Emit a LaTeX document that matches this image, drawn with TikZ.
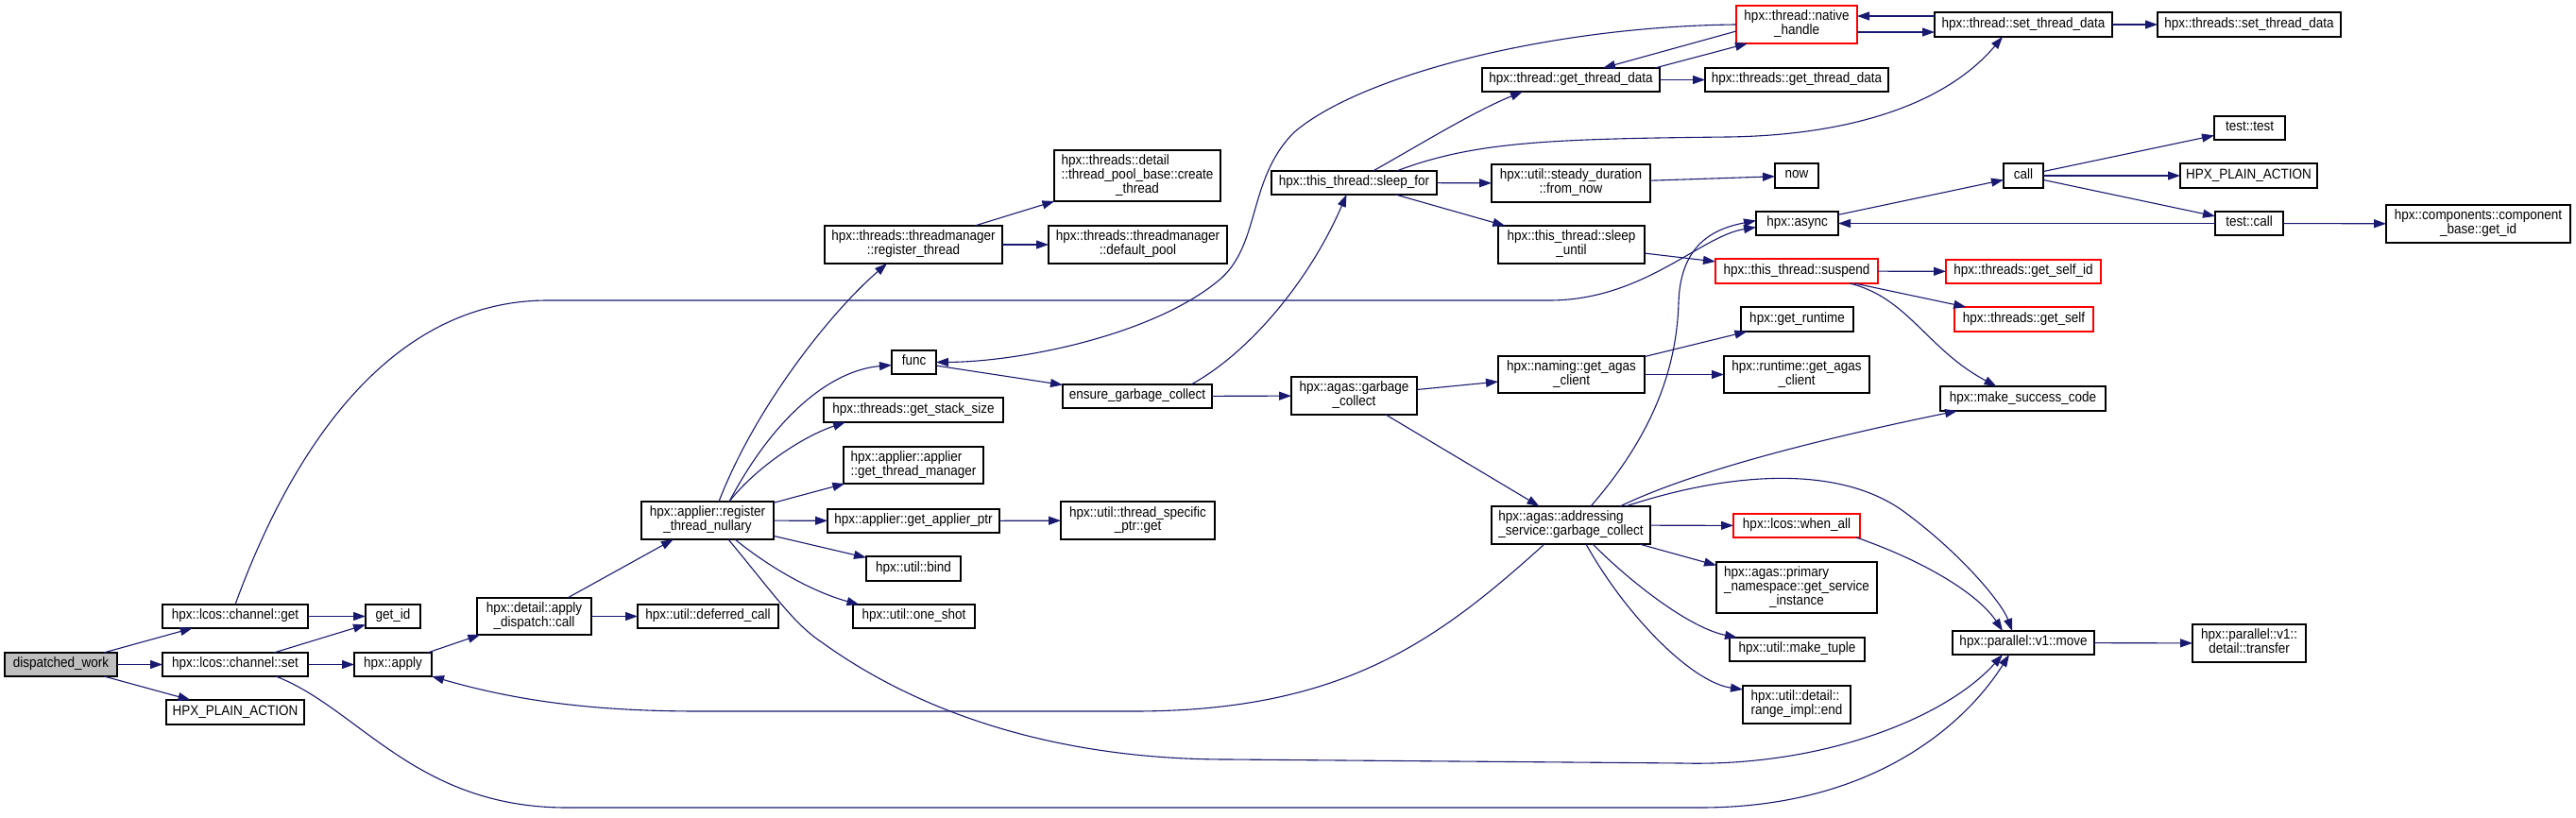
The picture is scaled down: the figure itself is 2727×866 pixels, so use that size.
\documentclass[tikz,border=0pt]{standalone}
\usepackage{fontspec}
\setmainfont[FakeStretch=0.9]{Liberation Sans}
\usetikzlibrary{arrows.meta,calc}
\definecolor{edgec}{HTML}{191970}
\definecolor{rootfill}{HTML}{BFBFBF}
\definecolor{redc}{HTML}{FF0000}
\newcommand{\nfont}{\fontsize{15pt}{13.7pt}\selectfont}
\newcommand{\tb}[1]{\begin{tabular}{@{}l@{}}#1\end{tabular}}
\newcommand{\lc}[1]{\multicolumn{1}{@{}c@{}}{#1}}
\newcommand{\bx}[7]{\node[#1, minimum width={#5-#3}, minimum height={#6-#4}] (#2) at ({(#3+#5)/2},{(#4+#6)/2}) {#7};}
\tikzset{
  fnbox/.style={draw=black, line width=1.3pt, fill=white, inner sep=0pt, outer sep=0pt, font=\nfont, execute at begin node=\strut},
  rootbox/.style={fnbox, fill=rootfill},
  redbox/.style={fnbox, draw=redc},
  conn/.style={draw=edgec, line width=1.1pt, -{Triangle[length=13pt,width=9pt]}}
}
\begin{document}
\begin{tikzpicture}[x=1pt,y=-1pt]
\fill[white] (0,0) rectangle (2727,866);
\useasboundingbox (0,0) rectangle (2727,866);
% nodes
\bx{rootbox}{dw}{5}{691}{124}{716}{dispatched\_work}
\bx{fnbox}{cget}{172}{640}{326}{665}{hpx::lcos::channel::get}
\bx{fnbox}{getid}{387}{640}{445}{665}{get\_id}
\bx{fnbox}{cset}{172}{691}{326}{716}{hpx::lcos::channel::set}
\bx{fnbox}{apply}{375}{691}{457}{716}{hpx::apply}
\bx{fnbox}{hpa1}{176}{741}{322}{767}{HPX\_PLAIN\_ACTION}
\bx{fnbox}{adc}{505}{633}{626}{672}{\tb{hpx::detail::apply\\\lc{\_dispatch::call}}}
\bx{fnbox}{defc}{675}{640}{824}{665}{hpx::util::deferred\_call}
\bx{fnbox}{rtn}{679}{531}{819}{571}{\tb{hpx::applier::register\\\lc{\_thread\_nullary}}}
\bx{fnbox}{rthr}{873}{239}{1061}{279}{\tb{hpx::threads::threadmanager\\\lc{::register\_thread}}}
\bx{fnbox}{ct}{1116}{159}{1292}{213}{\tb{hpx::threads::detail\\::thread\_pool\_base::create\\\lc{\_thread}}}
\bx{fnbox}{dp}{1110}{239}{1299}{279}{\tb{hpx::threads::threadmanager\\\lc{::default\_pool}}}
\bx{fnbox}{func}{944}{371}{991}{396}{func}
\bx{fnbox}{gss}{872}{421}{1062}{447}{hpx::threads::get\_stack\_size}
\bx{fnbox}{gtm}{893}{473}{1041}{512}{\tb{hpx::applier::applier\\\lc{::get\_thread\_manager}}}
\bx{fnbox}{gap}{876}{539}{1058}{564}{hpx::applier::get\_applier\_ptr}
\bx{fnbox}{tsp}{1123}{531}{1286}{571}{\tb{hpx::util::thread\_specific\\\lc{\_ptr::get}}}
\bx{fnbox}{bind}{917}{589}{1017}{615}{hpx::util::bind}
\bx{fnbox}{oneshot}{903}{640}{1032}{665}{hpx::util::one\_shot}
\bx{fnbox}{egc}{1125}{407}{1283}{432}{ensure\_garbage\_collect}
\bx{fnbox}{sf}{1346}{181}{1521}{206}{hpx::this\_thread::sleep\_for}
\bx{fnbox}{tgd}{1569}{72}{1757}{97}{hpx::thread::get\_thread\_data}
\bx{redbox}{nh}{1838}{6}{1966}{46}{\tb{hpx::thread::native\\\lc{\_handle}}}
\bx{fnbox}{tgds}{1805}{72}{1999}{97}{hpx::threads::get\_thread\_data}
\bx{fnbox}{tsd}{2048}{13}{2236}{39}{hpx::thread::set\_thread\_data}
\bx{fnbox}{tsds}{2284}{13}{2478}{39}{hpx::threads::set\_thread\_data}
\bx{fnbox}{steady}{1579}{174}{1747}{214}{\tb{hpx::util::steady\_duration\\\lc{::from\_now}}}
\bx{fnbox}{now}{1879}{173}{1925}{199}{now}
\bx{fnbox}{async}{1859}{224}{1946}{249}{hpx::async}
\bx{fnbox}{slu}{1586}{239}{1741}{279}{\tb{hpx::this\_thread::sleep\\\lc{\_until}}}
\bx{redbox}{susp}{1816}{274}{1988}{300}{hpx::this\_thread::suspend}
\bx{fnbox}{grt}{1843}{325}{1962}{351}{hpx::get\_runtime}
\bx{fnbox}{nag}{1586}{377}{1741}{416}{\tb{hpx::naming::get\_agas\\\lc{\_client}}}
\bx{fnbox}{rgac}{1825}{377}{1979}{416}{\tb{hpx::runtime::get\_agas\\\lc{\_client}}}
\bx{fnbox}{agc}{1367}{399}{1500}{439}{\tb{hpx::agas::garbage\\\lc{\_collect}}}
\bx{fnbox}{addr}{1579}{536}{1747}{576}{\tb{hpx::agas::addressing\\\lc{\_service::garbage\_collect}}}
\bx{redbox}{wa}{1835}{544}{1969}{569}{hpx::lcos::when\_all}
\bx{fnbox}{gsi}{1817}{595}{1987}{649}{\tb{hpx::agas::primary\\\_namespace::get\_service\\\lc{\_instance}}}
\bx{fnbox}{mt}{1831}{675}{1974}{700}{hpx::util::make\_tuple}
\bx{fnbox}{ri}{1845}{726}{1959}{766}{\tb{hpx::util::detail::\\\lc{range\_impl::end}}}
\bx{fnbox}{call}{2121}{173}{2163}{199}{call}
\bx{fnbox}{tt}{2344}{123}{2419}{148}{test::test}
\bx{fnbox}{hpa2}{2308}{173}{2453}{199}{HPX\_PLAIN\_ACTION}
\bx{fnbox}{tcall}{2345}{224}{2417}{249}{test::call}
\bx{fnbox}{cbgid}{2526}{217}{2721}{257}{\tb{hpx::components::component\\\lc{\_base::get\_id}}}
\bx{redbox}{gsid}{2060}{275}{2224}{300}{hpx::threads::get\_self\_id}
\bx{redbox}{gs}{2069}{325}{2216}{351}{hpx::threads::get\_self}
\bx{fnbox}{msc}{2054}{409}{2229}{435}{hpx::make\_success\_code}
\bx{fnbox}{move}{2067}{668}{2217}{693}{hpx::parallel::v1::move}
\bx{fnbox}{transfer}{2321}{661}{2441}{701}{\tb{hpx::parallel::v1::\\\lc{detail::transfer}}}
% edges
\draw[conn] (dw) -- (cget);
\draw[conn] (dw) -- (cset);
\draw[conn] (dw) -- (hpa1);
\draw[conn] (cget) -- (getid);
\draw[conn] (cget.north) .. controls (300,500) and (400,318) .. (580,318) -- (1640,318) .. controls (1740,318) and (1800,250) .. ($(async.west)+(0,4)$);
\draw[conn] (cset) -- (getid);
\draw[conn] (cset) -- (apply);
\draw[conn] ($(cset.south)+(43,0)$) .. controls (380,750) and (440,855) .. (600,855) -- (1800,855) .. controls (1990,855) and (2085,760) .. ($(move.south)+(-15,0)$);
\draw[conn] (apply) -- (adc);
\draw[conn] (adc) -- (rtn);
\draw[conn] (adc) -- (defc);
\draw[conn] ($(rtn.north)+(12,0)$) .. controls (800,430) and (880,330) .. ($(rthr.south)+(-28,0)$);
\draw[conn] ($(rtn.north)+(23,0)$) .. controls (820,440) and (880,392) .. ($(func.west)+(0,3)$);
\draw[conn] ($(rtn.north)+(23,0)$) .. controls (800,495) and (850,462) .. ($(gss.south)+(-72,0)$);
\draw[conn] (rtn) -- (gtm);
\draw[conn] (rtn) -- (gap);
\draw[conn] (rtn) -- (bind);
\draw[conn] ($(rtn.south)+(29,0)$) .. controls (820,605) and (865,628) .. ($(oneshot.north)+(-58,0)$);
\draw[conn] ($(rtn.south)+(22,0)$) .. controls (820,630) and (840,660) .. (870,680) .. controls (960,745) and (1100,804) .. (1300,804) -- (1780,808) .. controls (1930,812) and (2060,760) .. ($(move.south)+(-22,0)$);
\draw[conn] (rthr) -- (ct);
\draw[conn] (rthr) -- (dp);
\draw[conn] (gap) -- (tsp);
\draw[conn] (func) -- (egc);
\draw[conn] ($(egc.north)+(57,0)$) .. controls (1320,375) and (1385,300) .. ($(sf.south)+(-8,0)$);
\draw[conn] (egc) -- (agc);
\draw[conn] ($(sf.north)+(20,0)$) .. controls (1500,155) and (1560,118) .. ($(tgd.south)+(-51,0)$);
\draw[conn] ($(sf.north)+(45,0)$) .. controls (1560,150) and (1640,147) .. (1830,145) .. controls (1960,143) and (2060,110) .. ($(tsd.south)+(-22,0)$);
\draw[conn] (sf) -- (steady);
\draw[conn] (sf) -- (slu);
\draw[conn] (steady) -- (now);
\draw[conn] (slu) -- (susp);
\draw[conn] ($(tgd.north east)+(-5,0)$) -- ($(nh.south west)+(12,0)$);
\draw[conn] (tgd) -- (tgds);
\draw[conn] ($(nh.west)+(0,7)$) -- ($(tgd.north)+(34,0)$);
\draw[conn] (nh.west) .. controls (1640,28) and (1440,80) .. (1370,140) .. controls (1320,190) and (1335,260) .. (1290,297) .. controls (1220,355) and (1080,383) .. (func.east);
\draw[conn] ($(nh.east)+(0,8)$) -- ($(tsd.west)+(0,8)$);
\draw[conn] ($(tsd.west)+(0,-9)$) -- ($(nh.east)+(0,-9)$);
\draw[conn] (tsd) -- (tsds);
\draw[conn] (async) -- (call);
\draw[conn] (call) -- (tt);
\draw[conn] (call) -- (hpa2);
\draw[conn] (call) -- (tcall);
\draw[conn] (tcall) -- (cbgid);
\draw[conn] (tcall) -- (async);
\draw[conn] (susp) -- (gsid);
\draw[conn] (susp) -- (gs);
\draw[conn] ($(susp.south east)+(-30,0)$) .. controls (2020,315) and (2040,370) .. ($(msc.north)+(-28,0)$);
\draw[conn] (agc) -- (nag);
\draw[conn] (agc) -- (addr);
\draw[conn] (nag) -- (grt);
\draw[conn] (nag) -- (rgac);
\draw[conn] ($(addr.north)+(21,0)$) .. controls (1750,460) and (1775,390) .. (1777,320) .. controls (1779,258) and (1815,242) .. ($(async.west)+(0,-3)$);
\draw[conn] ($(addr.north)+(52,0)$) .. controls (1800,495) and (1950,460) .. ($(msc.south west)+(18,0)$);
\draw[conn] ($(addr.north)+(58,0)$) .. controls (1830,500) and (1950,490) .. (2020,545) .. controls (2080,590) and (2120,640) .. ($(move.north)+(-12,0)$);
\draw[conn] (addr) -- (wa);
\draw[conn] (addr) -- (gsi);
\draw[conn] ($(addr.south)+(23,0)$) .. controls (1730,620) and (1790,665) .. ($(mt.north west)+(8,0)$);
\draw[conn] ($(addr.south)+(16,0)$) .. controls (1720,650) and (1790,722) .. ($(ri.north west)+(0,4)$);
\draw[conn] ($(addr.south)+(-28,0)$) .. controls (1520,680) and (1420,753) .. (1200,753) -- (740,753) .. controls (620,753) and (540,740) .. (apply.south east);
\draw[conn] ($(wa.south east)+(-4,0)$) .. controls (2040,595) and (2095,630) .. ($(move.north)+(-22,0)$);
\draw[conn] (move) -- (transfer);
\end{tikzpicture}
\end{document}
